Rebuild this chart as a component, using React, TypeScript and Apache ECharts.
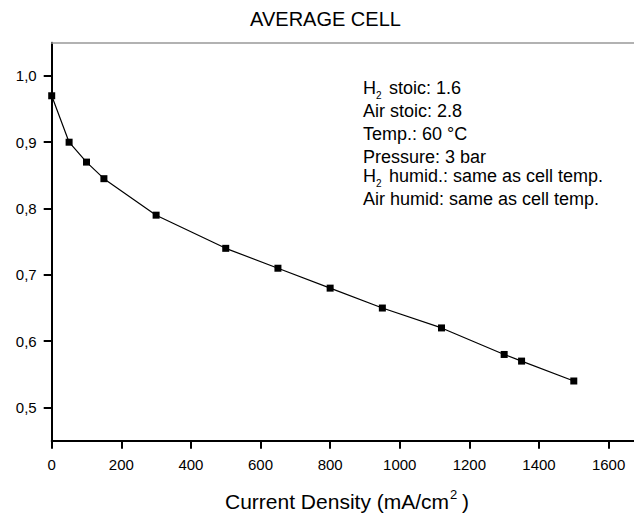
import React, { useEffect, useRef } from "react";
import * as echarts from "echarts";

const currentDensity = [0, 50, 100, 150, 300, 500, 650, 800, 950, 1120, 1300, 1350, 1500];
const cellVoltage = [0.97, 0.9, 0.87, 0.845, 0.79, 0.74, 0.71, 0.68, 0.65, 0.62, 0.58, 0.57, 0.54];
const xTicks = [0, 200, 400, 600, 800, 1000, 1200, 1400, 1600];
const yTicks = [0.5, 0.6, 0.7, 0.8, 0.9, 1.0];
const titleText = "AVERAGE CELL";
const FONT = "'Liberation Sans', Arial, Helvetica, sans-serif";

function txt(x: number, y: number, text: string, size: number, align = "left") {
  return {
    type: "text",
    x,
    y,
    silent: true,
    style: {
      text,
      x: 0,
      y: 0,
      fill: "#000",
      fontSize: size,
      fontFamily: FONT,
      align,
      textAlign: align,
      verticalAlign: "middle",
      textVerticalAlign: "middle",
    },
  };
}

export default function App() {
  const ref = useRef<HTMLDivElement>(null);
  useEffect(() => {
    if (!ref.current) return;
    const chart = echarts.init(ref.current, undefined, { renderer: "svg" });
    const data = currentDensity.map((x, i) => [x, cellVoltage[i]]);
    chart.setOption({
      animation: false,
      backgroundColor: "#fff",
      textStyle: { fontFamily: FONT },
      grid: { left: 51.7, right: 0, top: 42.7, bottom: 73.3, containLabel: false },
      xAxis: [
        {
          type: "value",
          min: 0,
          max: 1673,
          position: "bottom",
          axisLine: { show: true, onZero: false, lineStyle: { color: "#000", width: 2 } },
          axisTick: { show: true, customValues: xTicks, length: 8, lineStyle: { color: "#000", width: 2 } },
          axisLabel: {
            customValues: xTicks,
            margin: 16,
            fontSize: 15,
            color: "#000",
            fontFamily: FONT,
            formatter: (v: number) => String(Math.round(v)),
          },
          splitLine: { show: false },
        },
        {
          type: "value",
          min: 0,
          max: 1673,
          position: "top",
          axisLine: { show: true, onZero: false, lineStyle: { color: "#999", width: 1.5 } },
          axisTick: { show: false },
          axisLabel: { show: false },
          splitLine: { show: false },
        },
      ],
      yAxis: {
        type: "value",
        min: 0.45,
        max: 1.05,
        axisLine: { show: true, onZero: false, lineStyle: { color: "#000", width: 2 } },
        axisTick: { show: true, customValues: yTicks, length: 8, lineStyle: { color: "#000", width: 2 } },
        axisLabel: {
          customValues: yTicks,
          margin: 15,
          fontSize: 15,
          color: "#000",
          fontFamily: FONT,
          formatter: (v: number) => v.toFixed(1).replace(".", ","),
        },
        splitLine: { show: false },
      },
      series: [
        {
          type: "line",
          data,
          xAxisIndex: 0,
          symbol: "rect",
          symbolSize: 7,
          itemStyle: { color: "#000" },
          lineStyle: { color: "#000", width: 1.2 },
        },
      ],
      graphic: [
        txt(325.5, 19.3, titleText, 20, "center"),
        txt(363, 88.3, "H", 18),
        txt(376, 95.5, "2", 10),
        txt(389, 88.3, "stoic: 1.6", 18),
        txt(363, 110.5, "Air stoic: 2.8", 18),
        txt(363, 134.2, "Temp.: 60 °C", 18),
        txt(363, 156.5, "Pressure: 3 bar", 18),
        txt(363, 176, "H", 18),
        txt(376, 183.2, "2", 10),
        txt(389, 176, "humid.: same as cell temp.", 18),
        txt(363, 198.5, "Air humid: same as cell temp.", 18),
        txt(225, 501, "Current Density (mA/cm", 21),
        txt(450, 494.7, "2", 13),
        txt(462, 501, ")", 21),
      ],
    });
    return () => chart.dispose();
  }, []);
  return (
    <div
      ref={ref}
      style={{ position: "fixed", left: 0, top: 0, width: 634, height: 514, background: "#fff" }}
    />
  );
}
